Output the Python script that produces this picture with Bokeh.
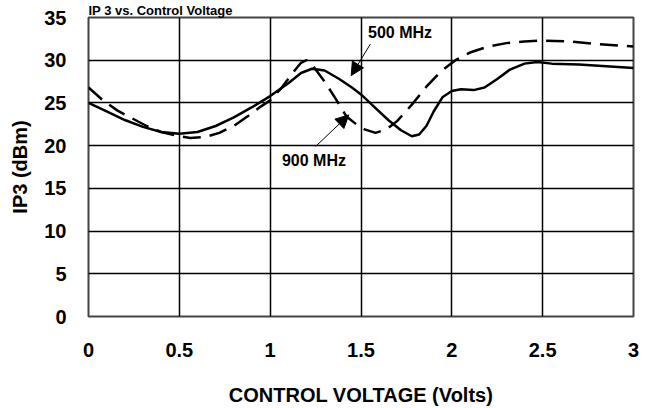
from bokeh.plotting import figure
from bokeh.models import Range1d, FixedTicker, Label, Arrow, NormalHead, Title
from bokeh.embed import file_html
from bokeh.resources import INLINE

# ---- data ----
x_ticks = [0, 0.5, 1, 1.5, 2, 2.5, 3]
x_tick_labels = ["0", "0.5", "1", "1.5", "2", "2.5", "3"]
y_ticks = [0, 5, 10, 15, 20, 25, 30, 35]

v_500 = [0.00, 0.10, 0.20, 0.30, 0.40, 0.50, 0.60, 0.70, 0.80, 0.90, 1.00,
         1.10, 1.17, 1.23, 1.30, 1.38, 1.45, 1.50, 1.58, 1.65, 1.72, 1.78,
         1.82, 1.86, 1.90, 1.95, 2.00, 2.05, 2.12, 2.18, 2.25, 2.32, 2.40,
         2.47, 2.55, 2.70, 2.85, 3.00]
ip3_500 = [25.0, 24.0, 23.0, 22.2, 21.6, 21.4, 21.6, 22.3, 23.3, 24.5, 25.8,
           27.3, 28.5, 29.0, 28.8, 27.8, 26.8, 26.0, 24.4, 23.0, 21.8, 21.1,
           21.3, 22.3, 24.0, 25.7, 26.4, 26.6, 26.5, 26.8, 27.8, 28.9, 29.6,
           29.8, 29.6, 29.5, 29.3, 29.1]

v_900 = [0.00, 0.08, 0.16, 0.24, 0.32, 0.40, 0.48, 0.56, 0.64, 0.72, 0.80,
         0.88, 0.95, 1.00, 1.06, 1.12, 1.17, 1.20, 1.24, 1.30, 1.36, 1.42,
         1.48, 1.52, 1.58, 1.64, 1.70, 1.78, 1.86, 1.94, 2.02, 2.10, 2.20,
         2.30, 2.40, 2.50, 2.65, 2.80, 3.00]
ip3_900 = [26.8, 25.3, 24.1, 23.2, 22.3, 21.6, 21.2, 20.9, 21.0, 21.5, 22.3,
           23.5, 24.6, 25.3, 26.7, 28.4, 29.7, 30.0, 29.2, 27.5, 25.5, 23.4,
           22.4, 21.9, 21.5, 21.9, 22.9, 24.8, 26.9, 28.7, 30.0, 30.9, 31.6,
           32.0, 32.2, 32.3, 32.2, 31.9, 31.6]

title_text = "IP 3 vs. Control Voltage"
x_title = "CONTROL VOLTAGE (Volts)"
y_title = "IP3 (dBm)"

# annotation anchors (data units)
lbl500 = (1.715, 33.3)
arr500 = (1.552, 31.9, 1.446, 28.2)
lbl900 = (1.241, 18.26)
arr900 = (1.25, 19.9, 1.433, 23.6)

FONT = "Liberation Sans"

p = figure(width=648, height=408, output_backend="svg", toolbar_location=None,
           x_range=Range1d(0, 3), y_range=Range1d(0, 35),
           min_border_left=88, min_border_right=15, min_border_top=14,
           min_border_bottom=92)
p.background_fill_color = "white"
p.border_fill_color = "white"
p.outline_line_color = "#444444"
p.outline_line_width = 2

p.title = Title(text=title_text, text_font=FONT, text_font_style="bold",
                text_font_size="13px", align="left", standoff=0,
                text_color="black")

for ax in (p.xaxis[0], p.yaxis[0]):
    ax.axis_line_color = None
    ax.major_tick_line_color = None
    ax.minor_tick_line_color = None
    ax.major_label_text_font = FONT
    ax.major_label_text_font_style = "bold"
    ax.major_label_text_font_size = "20px"
    ax.major_label_text_color = "black"
    ax.axis_label_text_font = FONT
    ax.axis_label_text_font_style = "bold"
    ax.axis_label_text_font_size = "20px"
    ax.axis_label_text_color = "black"

p.xaxis.ticker = FixedTicker(ticks=x_ticks)
p.xaxis.major_label_overrides = {t: l for t, l in zip(x_ticks, x_tick_labels)}
p.xaxis.major_label_standoff = 20
p.xaxis.axis_label = x_title
p.xaxis.axis_label_standoff = 24
p.yaxis.ticker = FixedTicker(ticks=y_ticks)
p.yaxis.major_label_standoff = 16
p.yaxis.axis_label = y_title
p.yaxis.axis_label_standoff = 10

p.xgrid.ticker = FixedTicker(ticks=x_ticks)
p.ygrid.ticker = FixedTicker(ticks=y_ticks)
for g in (p.xgrid[0], p.ygrid[0]):
    g.grid_line_color = "black"
    g.grid_line_width = 1.5
    g.grid_line_alpha = 1.0

p.line(v_500, ip3_500, line_color="black", line_width=2.5)
p.line(v_900, ip3_900, line_color="black", line_width=2.5, line_dash="18 9")

p.add_layout(Label(x=lbl500[0], y=lbl500[1], text="500 MHz", text_font=FONT,
                   text_font_style="bold", text_font_size="16px", text_color="black",
                   text_align="center", text_baseline="middle"))
p.add_layout(Label(x=lbl900[0], y=lbl900[1], text="900 MHz", text_font=FONT,
                   text_font_style="bold", text_font_size="16px", text_color="black",
                   text_align="center", text_baseline="middle"))
for (xs, ys, xe, ye) in (arr500, arr900):
    p.add_layout(Arrow(end=NormalHead(size=13, fill_color="black", line_color="black"),
                       x_start=xs, y_start=ys, x_end=xe, y_end=ye,
                       line_color="black", line_width=1))

open("out.html", "w").write(file_html(p, INLINE))
